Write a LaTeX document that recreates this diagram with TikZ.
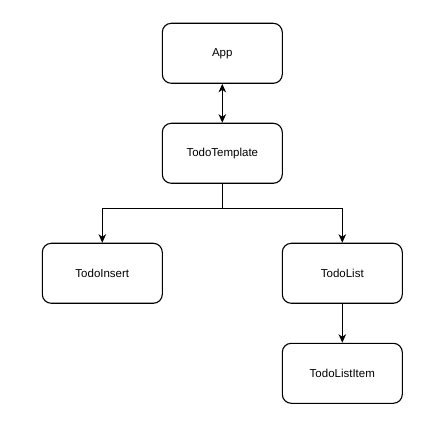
\documentclass[tikz,border=0pt]{standalone}
\usepackage{fontspec}
\setmainfont{Liberation Sans}
\usetikzlibrary{arrows.meta}
\begin{document}
\begin{tikzpicture}[x=1pt,y=-1pt,
  box/.style={draw=black, line width=1.1pt, rounded corners=9pt, minimum width=120pt, minimum height=60pt, inner sep=0pt, font=\fontsize{11.5}{13}\selectfont, fill=white},
  conn/.style={line width=1.1pt, draw=black},
  >={Stealth[length=8.5pt,width=7.5pt,inset=2.5pt]}]
\useasboundingbox (0,0) rectangle (447,446);
\node[box] (app) at (222.3,53.3) {App};
\node[box] (tt) at (222.3,153.3) {TodoTemplate};
\node[box] (ti) at (102.3,273.3) {TodoInsert};
\node[box] (tl) at (342.3,273.3) {TodoList};
\node[box] (tli) at (342.3,373.3) {TodoListItem};
\coordinate (j) at (222.3,208.3);
\draw[conn, <->] (app) -- (tt);
\draw[conn, ->] (tt.south) -- (j) -| (ti.north);
\draw[conn, ->] (j) -| (tl.north);
\draw[conn, ->] (tl) -- (tli);
\end{tikzpicture}
\end{document}
